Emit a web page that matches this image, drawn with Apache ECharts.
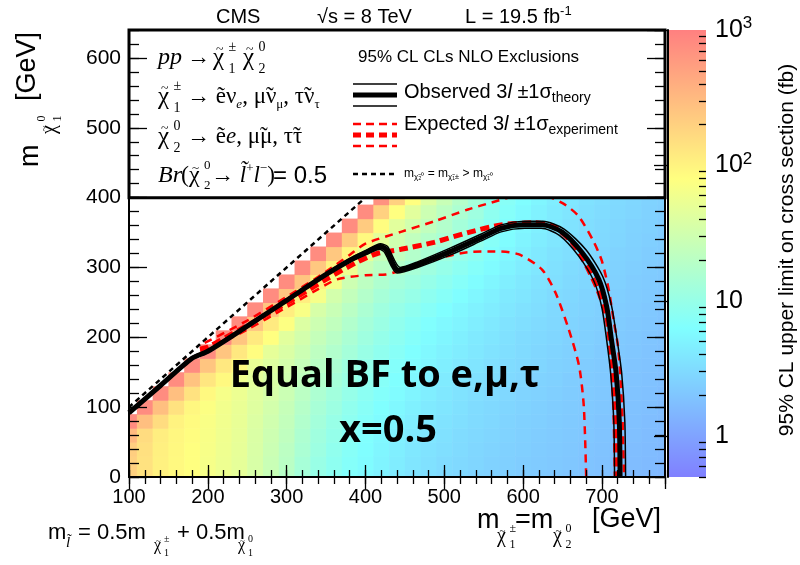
<!DOCTYPE html>
<html><head><meta charset="utf-8">
<script src="https://cdn.jsdelivr.net/npm/echarts@6/dist/echarts.min.js"></script>
<style>html,body{margin:0;padding:0;background:#fff}#c{width:800px;height:565px}</style>
</head><body><div id="c"></div>
<script>
// ---------------- DATA ----------------
// Bin centres (GeV)
const xCenters = [100,120,140,160,180,200,220,240,260,280,300,320,340,360,380,400,420,440,460,480,500,520,540,560,580,600,620,640,660,680,700,720,740,760,780];
const yCenters = [0,20,40,60,80,100,120,140,160,180,200,220,240,260,280,300,320,340,360,380,400];
// log10 of the 95% CL upper limit on the cross section (fb), one array per x bin, from y = 0 upward
const c100 = [2.3, 2.3, 2.32, 2.5, 2.9];
const c120 = [2.15, 2.15, 2.17, 2.2, 2.45, 2.9];
const c140 = [2.02, 2.02, 2.03, 2.05, 2.2, 2.45, 2.9];
const c160 = [1.95, 1.95, 1.96, 1.97, 2.0, 2.15, 2.45, 2.9];
const c180 = [1.9, 1.9, 1.9, 1.92, 1.93, 1.97, 2.15, 2.42, 2.9];
const c200 = [1.82, 1.82, 1.83, 1.84, 1.85, 1.87, 1.95, 2.12, 2.4, 2.9];
const c220 = [1.75, 1.75, 1.76, 1.77, 1.78, 1.79, 1.82, 1.95, 2.1, 2.4, 2.9];
const c240 = [1.68, 1.68, 1.69, 1.7, 1.71, 1.72, 1.74, 1.77, 1.93, 2.1, 2.4, 2.9];
const c260 = [1.55, 1.56, 1.57, 1.58, 1.6, 1.62, 1.64, 1.67, 1.72, 1.92, 2.08, 2.4, 2.9];
const c280 = [1.42, 1.43, 1.45, 1.47, 1.49, 1.52, 1.55, 1.58, 1.62, 1.68, 1.9, 2.08, 2.4, 2.9];
const c300 = [1.28, 1.3, 1.32, 1.35, 1.38, 1.41, 1.45, 1.49, 1.53, 1.58, 1.65, 1.88, 2.05, 2.4, 2.9];
const c320 = [1.12, 1.14, 1.17, 1.2, 1.23, 1.27, 1.31, 1.36, 1.41, 1.46, 1.52, 1.6, 1.85, 2.05, 2.4, 2.9];
const c340 = [1.0, 1.02, 1.05, 1.08, 1.11, 1.15, 1.19, 1.24, 1.29, 1.34, 1.4, 1.47, 1.55, 1.82, 2.02, 2.38, 2.9];
const c360 = [0.9, 0.92, 0.95, 0.98, 1.01, 1.05, 1.09, 1.13, 1.18, 1.23, 1.29, 1.36, 1.43, 1.52, 1.8, 2.0, 2.38, 2.9];
const c380 = [0.82, 0.84, 0.86, 0.89, 0.92, 0.95, 0.99, 1.03, 1.07, 1.12, 1.17, 1.23, 1.3, 1.38, 1.47, 1.75, 1.98, 2.35, 2.9];
const c400 = [0.75, 0.77, 0.79, 0.81, 0.84, 0.87, 0.9, 0.94, 0.98, 1.02, 1.07, 1.12, 1.18, 1.25, 1.33, 1.42, 1.7, 1.95, 2.35, 2.9];
const c420 = [0.68, 0.7, 0.72, 0.74, 0.77, 0.8, 0.83, 0.86, 0.9, 0.94, 0.98, 1.03, 1.08, 1.14, 1.21, 1.29, 1.4, 1.65, 1.92, 2.3, 2.85];
const c440 = [0.62, 0.64, 0.66, 0.68, 0.71, 0.74, 0.77, 0.8, 0.83, 0.87, 0.91, 0.95, 1.0, 1.06, 1.13, 1.25, 1.35, 1.48, 1.65, 1.9, 2.3];
const c460 = [0.56, 0.58, 0.6, 0.62, 0.65, 0.68, 0.71, 0.74, 0.77, 0.8, 0.84, 0.88, 0.93, 1.0, 1.07, 1.15, 1.25, 1.36, 1.5, 1.65, 1.9];
const c480 = [0.52, 0.54, 0.56, 0.58, 0.6, 0.62, 0.65, 0.68, 0.71, 0.74, 0.77, 0.81, 0.86, 0.92, 0.99, 1.07, 1.16, 1.26, 1.36, 1.46, 1.6];
const c500 = [0.48, 0.5, 0.52, 0.54, 0.56, 0.58, 0.6, 0.63, 0.66, 0.69, 0.72, 0.75, 0.8, 0.86, 0.92, 0.99, 1.07, 1.16, 1.24, 1.32, 1.42];
const c520 = [0.45, 0.47, 0.49, 0.5, 0.52, 0.54, 0.56, 0.58, 0.61, 0.64, 0.67, 0.7, 0.74, 0.79, 0.85, 0.91, 0.98, 1.05, 1.12, 1.19, 1.26];
const c540 = [0.42, 0.44, 0.45, 0.47, 0.49, 0.5, 0.52, 0.54, 0.57, 0.6, 0.62, 0.65, 0.69, 0.73, 0.78, 0.84, 0.9, 0.96, 1.02, 1.07, 1.12];
const c560 = [0.4, 0.41, 0.43, 0.44, 0.46, 0.47, 0.49, 0.51, 0.53, 0.56, 0.58, 0.61, 0.64, 0.68, 0.72, 0.77, 0.82, 0.86, 0.9, 0.93, 0.96];
const c580 = [0.38, 0.39, 0.4, 0.42, 0.43, 0.44, 0.46, 0.48, 0.5, 0.52, 0.54, 0.56, 0.59, 0.62, 0.66, 0.7, 0.74, 0.78, 0.81, 0.84, 0.87];
const c600 = [0.36, 0.37, 0.38, 0.39, 0.4, 0.42, 0.43, 0.45, 0.47, 0.49, 0.5, 0.52, 0.55, 0.58, 0.61, 0.64, 0.67, 0.7, 0.73, 0.76, 0.79];
const c620 = [0.34, 0.35, 0.36, 0.37, 0.38, 0.39, 0.41, 0.42, 0.44, 0.45, 0.47, 0.49, 0.51, 0.53, 0.56, 0.59, 0.61, 0.64, 0.67, 0.69, 0.72];
const c640 = [0.32, 0.33, 0.34, 0.35, 0.36, 0.37, 0.38, 0.4, 0.41, 0.43, 0.44, 0.46, 0.47, 0.49, 0.52, 0.54, 0.56, 0.59, 0.61, 0.63, 0.65];
const c660 = [0.3, 0.31, 0.32, 0.33, 0.34, 0.35, 0.36, 0.37, 0.39, 0.4, 0.41, 0.43, 0.44, 0.46, 0.48, 0.5, 0.52, 0.54, 0.56, 0.58, 0.6];
const c680 = [0.28, 0.29, 0.3, 0.31, 0.32, 0.33, 0.34, 0.35, 0.36, 0.38, 0.39, 0.4, 0.42, 0.43, 0.45, 0.46, 0.48, 0.5, 0.51, 0.53, 0.55];
const c700 = [0.26, 0.27, 0.28, 0.29, 0.3, 0.31, 0.32, 0.33, 0.34, 0.35, 0.37, 0.38, 0.39, 0.41, 0.42, 0.44, 0.45, 0.47, 0.48, 0.5, 0.51];
const c720 = [0.24, 0.25, 0.26, 0.27, 0.28, 0.29, 0.3, 0.31, 0.32, 0.33, 0.34, 0.36, 0.37, 0.38, 0.4, 0.41, 0.42, 0.44, 0.45, 0.47, 0.48];
const c740 = [0.22, 0.23, 0.24, 0.25, 0.26, 0.27, 0.28, 0.29, 0.3, 0.31, 0.32, 0.33, 0.35, 0.36, 0.37, 0.38, 0.4, 0.41, 0.42, 0.44, 0.45];
const c760 = [0.2, 0.21, 0.22, 0.23, 0.24, 0.25, 0.26, 0.27, 0.28, 0.29, 0.3, 0.31, 0.32, 0.34, 0.35, 0.36, 0.37, 0.38, 0.4, 0.41, 0.42];
const c780 = [0.18, 0.19, 0.2, 0.21, 0.22, 0.23, 0.24, 0.25, 0.26, 0.27, 0.28, 0.29, 0.3, 0.31, 0.33, 0.34, 0.35, 0.36, 0.37, 0.38, 0.4];
const columns = [c100,c120,c140,c160,c180,c200,c220,c240,c260,c280,c300,c320,c340,c360,c380,c400,c420,c440,c460,c480,c500,c520,c540,c560,c580,c600,c620,c640,c660,c680,c700,c720,c740,c760,c780];

// Contours [m_chargino, m_LSP] (GeV)
const obsCentral = [[100,92],[140,131],[180,170],[200,180],[250,216],[300,253],[350,290],[380,310],[400,321],[419,330],[426,326],[442,296],[466,304],[508,323],[547,343],[572,356],[602,361],[624,361],[649,351],[675,321],[696,283],[706,244],[712,197],[718,149],[722,80],[723,0]];
const obsPlus = [[100,94],[140,133],[180,172],[200,182],[250,218],[300,255],[350,292],[380,313],[400,324],[419,334],[428,330],[444,300],[466,308],[508,328],[547,348],[572,361],[602,366],[625,366],[652,355],[680,325],[701,287],[712,246],[719,198],[725,149],[729,80],[730,0]];
const obsMinus = [[100,90],[140,129],[180,168],[200,178],[250,214],[300,251],[350,288],[380,308],[400,318],[418,326],[424,322],[440,292],[466,300],[508,318],[547,338],[572,351],[602,356],[623,356],[646,346],[670,317],[690,280],[700,242],[706,196],[711,149],[715,80],[716,0]];
const expCentral = [[190,183],[200,186],[250,217],[300,249],[350,283],[390,308],[415,320],[445,326],[487,336],[530,350],[572,361],[615,364],[641,357],[667,329],[693,273],[706,230],[712,173],[716,101],[718,0]];
const expPlus = [[196,192],[250,224],[300,258],[350,294],[380,318],[400,334],[445,351],[487,366],[530,383],[560,393],[590,402],[620,405],[650,392],[670,374],[689,338],[700,309],[709,266],[715,223],[720,190],[723,150],[726,86],[728,0]];
const expMinus = [[192,178],[250,211],[300,243],[340,269],[364,283],[400,289],[426,290],[460,302],[500,315],[530,322],[564,323],[594,319],[624,297],[641,264],[658,211],[671,159],[677,101],[680,0]];
const diagonal = [[100,100],[640,640]];

// Axis tick values
const xLabelsMajor = 100, yLabelsMajor = 100, minorStep = 20;
const cbMajor = [0,1,2,3];                       // log10 of 1, 10, 100, 1000 fb
const cbMantissa = [2,3,4,5,6,7,8,9];
const cbMin = Math.log10(0.5), cbMax = 3;

// ---------------- BUILD ----------------
const cells = [];
columns.forEach((col, i) => col.forEach((v, j) => cells.push([xCenters[i], yCenters[j], v])));
const cbMinor = [];
[-1,0,1,2].forEach(e => cbMantissa.forEach(m => { const l = Math.log10(m) + e; if (l >= cbMin - 1e-9 && l <= cbMax) cbMinor.push(l); }));

const FONT = '"Liberation Sans", Arial, Helvetica, sans-serif';
const SERIF = '"Liberation Serif", "DejaVu Serif", "Times New Roman", serif';

function T(x, y, text, size, o) {
  return {type:'text', z:20, x:x, y:y, silent:true,
    style:Object.assign({text:text, fontSize:size, fontFamily:FONT, fill:'#000', align:'left', verticalAlign:'middle'}, o||{})};
}
function S(x, y, text, size, o) { return T(x, y, text, size, Object.assign({fontFamily:SERIF}, o||{})); }
// chi with tilde above and stacked super/subscript
function chi(x, yc, size, sup, sub, ss, dy) {
  const w = size * 0.62;
  return [T(x, yc, 'χ', size, {fontFamily:SERIF}),
          T(x + size * 0.27, yc - size * 0.3, '~', size * 0.55, {fontFamily:SERIF, align:'center'}),
          T(x + w, yc - dy, sup, ss, {fontFamily:SERIF}), T(x + w, yc + dy, sub, ss, {fontFamily:SERIF})];
}
function chiLocal(x, yc, size, sup, sub, ss, dy) {
  const w = size * 0.62;
  const t = (xx, yy, s, sz, al) => ({type:'text', x:xx, y:yy, style:{text:s, fontSize:sz, fontFamily:SERIF, fill:'#000', verticalAlign:'middle', align:al || 'left'}});
  return [t(x, yc, 'χ', size), t(x + size * 0.27, yc - size * 0.3, '~', size * 0.55, 'center'),
          t(x + w, yc - dy, sup, ss), t(x + w, yc + dy, sub, ss)];
}
const richSerif = {
  n:{fontSize:23, fontFamily:SERIF, lineHeight:28},
  i:{fontSize:23, fontFamily:SERIF, fontStyle:'italic', lineHeight:28},
  s:{fontSize:13, fontFamily:SERIF, verticalAlign:'bottom', lineHeight:15},
  si:{fontSize:13, fontFamily:SERIF, fontStyle:'italic', verticalAlign:'bottom', lineHeight:15},
  p:{fontSize:13, fontFamily:SERIF, verticalAlign:'top', lineHeight:15}
};
const richSans = {
  n:{fontSize:20, fontFamily:FONT, lineHeight:26},
  i:{fontSize:20, fontFamily:FONT, fontStyle:'italic', lineHeight:26},
  s:{fontSize:14, fontFamily:FONT, verticalAlign:'bottom', lineHeight:14}
};
function R(x, y, text, rich) {
  return {type:'text', z:20, x:x, y:y, silent:true, style:{text:text, rich:rich, align:'left', verticalAlign:'middle', fill:'#000'}};
}
function L(x1, y1, x2, y2, color, w, dash) {
  return {type:'line', z:20, silent:true, shape:{x1:x1, y1:y1, x2:x2, y2:y2}, style:{stroke:color, lineWidth:w, lineDash:dash || null}};
}

const graphics = [].concat(
  // header
  [T(216, 17, 'CMS', 20), T(317, 17, '√s = 8 TeV', 20),
   R(465, 17, '{n|L = 19.5 fb}{p|-1}', {n:{fontSize:20, fontFamily:FONT, lineHeight:24}, p:{fontSize:13, fontFamily:FONT, verticalAlign:'top', lineHeight:13}})],
  // legend, left column
  [S(158, 58, 'pp', 24, {fontStyle:'italic'}), S(187, 58, '→', 23)],
  chi(213, 58, 25, '±', '1', 14, 11), chi(243, 58, 25, '0', '2', 14, 11),
  chi(158, 97, 25, '±', '1', 14, 11),
  [R(187, 97, '{n|→ ẽν}{si|e}{n|, μ̃ν}{s|μ}{n|, τ̃ν}{s|τ}', richSerif)],
  chi(158, 137, 25, '0', '2', 14, 11),
  [R(187, 137, '{n|→ ẽ}{i|e}{n|, μ̃μ, τ̃τ}', richSerif)],
  [S(158, 176, 'Br', 24, {fontStyle:'italic'}), S(181, 176, '(', 24)],
  chi(189, 176, 24, '0', '2', 13, 10),
  [R(211, 176, '{n|→ }{i|l̃}{p|+}{i|l}{p|−}{n|)}', richSerif), T(273, 176, '= 0.5', 24)],
  // legend, right column
  [T(358, 57, '95% CL CLs NLO Exclusions', 17),
   L(353, 84, 397, 84, '#000', 1.5), L(353, 95, 397, 95, '#000', 5), L(353, 106, 397, 106, '#000', 1.5),
   R(404, 92, '{n|Observed 3}{i|l}{n| ±1σ}{s|theory}', richSans),
   L(353, 124, 397, 124, '#ff0000', 2.5, [8,5]), L(353, 135, 397, 135, '#ff0000', 5, [8,5]), L(353, 146, 397, 146, '#ff0000', 2.5, [8,5]),
   R(404, 124, '{n|Expected 3}{i|l}{n| ±1σ}{s|experiment}', richSans),
   L(353, 174, 397, 174, '#000', 2.5, [5,4]),
   R(404, 174, '{n|m}{s|χ̃₂⁰}{n| = m}{s|χ̃₁±}{n| > m}{s|χ̃₁⁰}',
     {n:{fontSize:12, fontFamily:FONT, lineHeight:14}, s:{fontSize:8, fontFamily:FONT, verticalAlign:'bottom', lineHeight:8}})],
  // overlay text
  [{type:'text', z:20, x:385, y:376, silent:true, style:{text:'Equal BF to e,μ,τ', fontSize:38, fontWeight:'bold', fontFamily:'"Open Sans", Lato, sans-serif', fill:'#000', align:'center', verticalAlign:'middle'}},
   {type:'text', z:20, x:388, y:431, silent:true, style:{text:'x=0.5', fontSize:38, fontWeight:'bold', fontFamily:'"Open Sans", Lato, sans-serif', fill:'#000', align:'center', verticalAlign:'middle'}}],
  // x-axis title
  [T(477, 521, 'm', 27)], chi(497, 537, 20, '±', '1', 12, 8),
  [T(515, 521, '=m', 27)], chi(553, 537, 20, '0', '2', 12, 8),
  [T(592, 520, '[GeV]', 27)],
  // y-axis title (rotated)
  [{type:'group', x:28, y:167, rotation:Math.PI/2, z:20, silent:true, children:[].concat(
    [{type:'text', x:0, y:3, style:{text:'m', fontSize:27, fontFamily:FONT, fill:'#000', verticalAlign:'middle'}}],
    chiLocal(33, 22, 20, '0', '1', 12, 8),
    [{type:'text', x:66, y:0, style:{text:'[GeV]', fontSize:27, fontFamily:FONT, fill:'#000', verticalAlign:'middle'}}]
  )}],
  // bottom-left note
  [T(48, 533, 'm', 22), S(66, 543, 'l̃', 15, {fontStyle:'italic'}), T(78, 533, '= 0.5m', 22)],
  chi(154, 546, 16, '±', '1', 10, 7),
  [T(177, 533, '+ 0.5m', 22)],
  chi(238, 546, 16, '0', '1', 10, 7),
  // colour-bar title
  [{type:'text', z:20, x:787, y:250, rotation:Math.PI/2, silent:true, style:{text:'95% CL upper limit on cross section (fb)', fontSize:21, fontFamily:FONT, fill:'#000', align:'center', verticalAlign:'middle'}}]
);

function mkX(pos, interval, len, showLine, showLabel) {
  return {gridIndex:0, type:'value', position:pos, min:100, max:780, interval:interval, z:10,
    axisLine:{show:showLine, lineStyle:{color:'#000', width:2}},
    axisTick:{show:true, inside:true, length:len, lineStyle:{color:'#000', width:1.3}},
    axisLabel:{show:showLabel, fontSize:20, fontFamily:FONT, color:'#000', margin:10, showMaxLabel:false},
    splitLine:{show:false}};
}
function mkY(pos, interval, len, showLine, showLabel) {
  return {gridIndex:0, type:'value', position:pos, min:0, max:640, interval:interval, z:10,
    axisLine:{show:showLine, lineStyle:{color:'#000', width:2}},
    axisTick:{show:true, inside:true, length:len, lineStyle:{color:'#000', width:1.3}},
    axisLabel:{show:showLabel, fontSize:21, fontFamily:FONT, color:'#000', margin:8, showMaxLabel:false},
    splitLine:{show:false}};
}

const gradient = new echarts.graphic.LinearGradient(0, 0, 0, 1, [
  {offset:0, color:'#ff8080'}, {offset:1/3, color:'#ffff80'}, {offset:2/3, color:'#80ffff'}, {offset:1, color:'#8080ff'}]);

const lineSeries = (data, color, width, dash) => ({
  type:'line', xAxisIndex:0, yAxisIndex:0, data:data, showSymbol:false, symbol:'none', smooth:0.25, z:3, silent:true, clip:true,
  lineStyle:{color:color, width:width, type:dash || 'solid'}
});

const option = {
  animation:false,
  backgroundColor:'#fff',
  grid:[{left:129, top:30, width:536, height:447, containLabel:false},
        {left:668, top:30, width:38, height:447, containLabel:false}],
  xAxis:[mkX('bottom', xLabelsMajor, 12, true, true), mkX('bottom', minorStep, 7, false, false),
         mkX('top', xLabelsMajor, 12, true, false), mkX('top', minorStep, 7, false, false),
         {gridIndex:1, type:'value', min:0, max:1, show:false}],
  yAxis:[mkY('left', yLabelsMajor, 18, true, true), mkY('left', minorStep, 10, false, false),
         mkY('right', yLabelsMajor, 18, true, false), mkY('right', minorStep, 10, false, false),
         {gridIndex:1, type:'value', min:cbMin, max:cbMax, position:'right', z:10,
          axisLine:{show:true, lineStyle:{color:'#000', width:2}},
          axisTick:{show:true, inside:true, length:14, customValues:cbMajor, lineStyle:{color:'#000', width:1.3}},
          axisLabel:{show:true, customValues:cbMajor, margin:9, fontSize:25, fontFamily:FONT, color:'#000',
            formatter:function(v){ const k = Math.round(v); return k === 0 ? '1' : k === 1 ? '10' : '{b|10}{s|' + k + '}'; },
            rich:{b:{fontSize:25, fontFamily:FONT, lineHeight:30}, s:{fontSize:17, fontFamily:FONT, verticalAlign:'top', lineHeight:17}}},
          splitLine:{show:false}},
         {gridIndex:1, type:'value', min:cbMin, max:cbMax, position:'right', z:10,
          axisLine:{show:false}, axisLabel:{show:false}, splitLine:{show:false},
          axisTick:{show:true, inside:true, length:7, customValues:cbMinor, lineStyle:{color:'#000', width:1.3}}}],
  visualMap:[{type:'continuous', show:false, seriesIndex:0, dimension:2, min:cbMin, max:cbMax,
              inRange:{color:['#8080ff','#80ffff','#ffff80','#ff8080']}}],
  graphic:{elements:graphics},
  series:[
    {type:'custom', xAxisIndex:0, yAxisIndex:0, z:1, silent:true, data:cells, dimensions:['x','y','log10limit'], encode:{x:0, y:1},
     renderItem:function(params, api){
       const x = api.value(0), y = api.value(1);
       const p1 = api.coord([x - 10, y + 10]);
       const p2 = api.coord([x + 10, y - 10]);
       const cs = params.coordSys;
       const shape = echarts.graphic.clipRectByRect(
         {x:p1[0], y:p1[1], width:p2[0] - p1[0] + 0.6, height:p2[1] - p1[1] + 0.6},
         {x:cs.x, y:cs.y, width:cs.width, height:cs.height});
       if (!shape) return null;
       return {type:'rect', shape:shape, style:{fill:api.visual('color')}};
     }},
    lineSeries(diagonal, '#000', 2.5, [5,4]),
    lineSeries(expPlus, '#ff0000', 2.5, [8,6]),
    lineSeries(expMinus, '#ff0000', 2.5, [8,6]),
    lineSeries(expCentral, '#ff0000', 5, [9,5]),
    lineSeries(obsPlus, '#000', 1.5),
    lineSeries(obsMinus, '#000', 1.5),
    lineSeries(obsCentral, '#000', 5),
    {type:'custom', xAxisIndex:0, yAxisIndex:0, z:5, silent:true, data:[[100,640]],
     renderItem:function(params, api){
       const a = api.coord([100, 640]), b = api.coord([780, 400]);
       return {type:'rect', shape:{x:a[0], y:a[1], width:b[0] - a[0], height:b[1] - a[1]}, style:{fill:'#fff', stroke:'#000', lineWidth:3}};
     }},
    {type:'custom', xAxisIndex:4, yAxisIndex:4, z:1, silent:true, data:[[0, cbMax]],
     renderItem:function(params, api){
       const a = api.coord([0, cbMax]), b = api.coord([1, cbMin]);
       return {type:'rect', shape:{x:a[0], y:a[1], width:b[0] - a[0], height:b[1] - a[1]}, style:{fill:gradient}};
     }}
  ]
};
const chart = echarts.init(document.getElementById('c'), null, {renderer:'canvas'});
chart.setOption(option);
</script></body></html>
